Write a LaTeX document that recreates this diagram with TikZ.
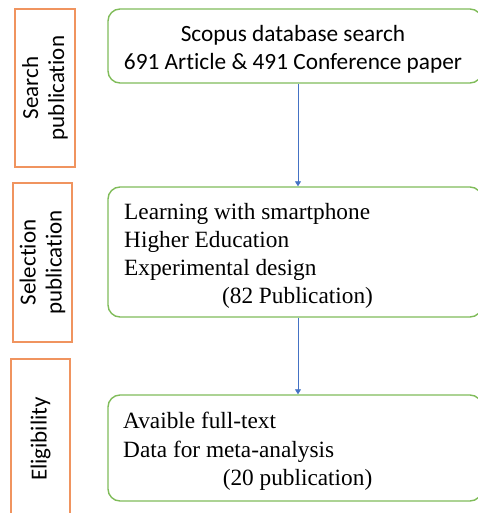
\documentclass[tikz,border=0pt]{standalone}
\usepackage{fontspec}
\setmainfont{Liberation Serif}
\newfontfamily\calibri[Ligatures=NoCommon]{Carlito}
\usetikzlibrary{arrows.meta}
\definecolor{lblorange}{RGB}{240,148,95}
\definecolor{boxgreen}{RGB}{128,188,90}
\definecolor{arrblue}{RGB}{68,114,196}
\begin{document}
\begin{tikzpicture}[x=1pt,y=-1pt,
  stagebox/.style={draw=lblorange, line width=1.3pt, rotate=90, inner sep=0pt, align=center,
    font=\calibri\fontsize{23}{26}\selectfont},
  gbox/.style={draw=boxgreen, line width=1.4pt, rounded corners=12pt, inner sep=0pt},
  sanstxt/.style={font=\calibri\fontsize{23.3}{28}\selectfont, inner sep=0pt},
  sertxt/.style={font=\fontsize{23.3}{28}\selectfont, inner sep=0pt},
  arr/.style={draw=arrblue, line width=0.8pt, -{Triangle[length=5pt,width=6pt]}}]
\useasboundingbox (0,0) rectangle (478,513);

% stage labels
\node[stagebox, minimum width=158pt, minimum height=60pt] (s1) at (45,88) {Search\\publication};
\node[stagebox, minimum width=159pt, minimum height=59pt] (s2) at (42.5,262.5) {Selection\\publication};
\node[stagebox, minimum width=160pt, minimum height=59pt] (s3) at (40.5,439) {Eligibility};

% green boxes
\node[gbox, minimum width=374pt, minimum height=74pt] (b1) at (295,46) {};
\node[gbox, minimum width=374pt, minimum height=130pt] (b2) at (295,252) {};
\node[gbox, minimum width=374pt, minimum height=106pt] (b3) at (295,448) {};

% texts
\node[sanstxt, anchor=base] (t11) at (293,42) {Scopus database search};
\node[sanstxt, anchor=base] (t12) at (293,70) {691 Article \& 491 Conference paper};

\node[sertxt, anchor=base west] (t21) at (124,219) {Learning with smartphone};
\node[sertxt, anchor=base west] (t22) at (124,247) {Higher Education};
\node[sertxt, anchor=base west] (t23) at (124,275) {Experimental design};
\node[sertxt, anchor=base] (t24) at (297.5,303) {(82 Publication)};

\node[sertxt, anchor=base west] (t31) at (123,428) {Avaible full-text};
\node[sertxt, anchor=base west] (t32) at (123,457) {Data for meta-analysis};
\node[sertxt, anchor=base] (t33) at (297.5,485) {(20 publication)};

% arrows
\coordinate (ax) at (298,0);
\draw[arr] (b1.south -| ax) -- (b2.north -| ax);
\draw[arr] (b2.south -| ax) -- (b3.north -| ax);
\end{tikzpicture}
\end{document}
